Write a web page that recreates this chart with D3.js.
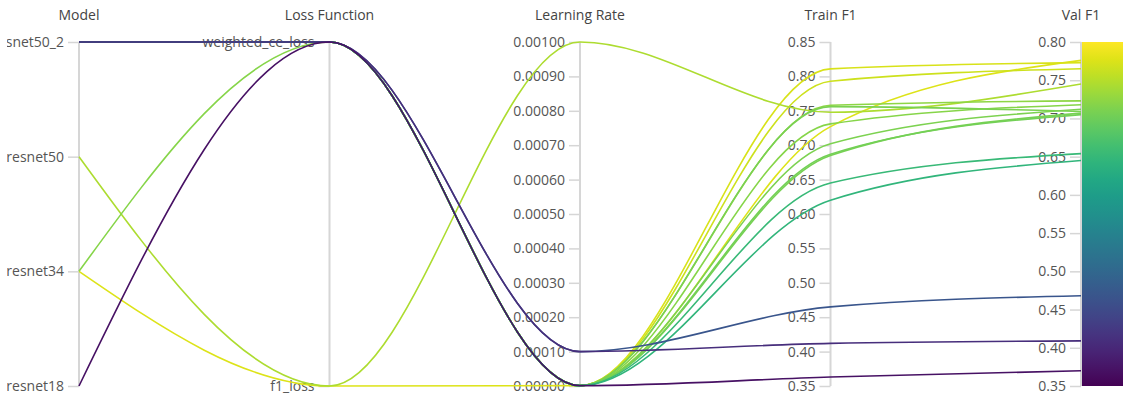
<!DOCTYPE html>
<html>
<head>
<meta charset="utf-8">
<script src="https://cdn.jsdelivr.net/npm/d3@7"></script>
<style>
  html, body { margin: 0; padding: 0; background: #fff; }
  svg { display: block; font-family: "Open Sans", Lato, "Noto Sans", sans-serif; }
</style>
</head>
<body>
<svg id="chart" width="1123" height="396"></svg>
<script>
// Dimension titles, left to right
const dimensions = ["Model", "Loss Function", "Learning Rate", "Train F1", "Val F1"];

// Categorical levels (top to bottom)
const modelLevels = ["resnet50_2", "resnet50", "resnet34", "resnet18"];
const lossLevels = ["weighted_ce_loss", "f1_loss"];

// One entry per run
const runModel = ["resnet34", "resnet50", "resnet50_2", "resnet50_2", "resnet50_2", "resnet50_2", "resnet34", "resnet50_2", "resnet50_2", "resnet50_2", "resnet50_2", "resnet50_2", "resnet50_2", "resnet50_2", "resnet18"];
const runLoss = ["f1_loss", "f1_loss", "weighted_ce_loss", "weighted_ce_loss", "weighted_ce_loss", "weighted_ce_loss", "weighted_ce_loss", "weighted_ce_loss", "weighted_ce_loss", "weighted_ce_loss", "weighted_ce_loss", "weighted_ce_loss", "weighted_ce_loss", "weighted_ce_loss", "weighted_ce_loss"];
const runLR = [0.000001, 0.001, 0.000001, 0.000001, 0.000001, 0.000001, 0.000001, 0.000001, 0.000001, 0.000001, 0.000001, 0.000001, 0.0001, 0.0001, 0.000001];
const runTrainF1 = [0.727, 0.748, 0.811, 0.793, 0.758, 0.756, 0.731, 0.702, 0.687, 0.685, 0.645, 0.620, 0.465, 0.412, 0.363];
const runValF1 = [0.776, 0.745, 0.773, 0.765, 0.723, 0.709, 0.718, 0.712, 0.705, 0.707, 0.654, 0.645, 0.468, 0.409, 0.370];

// Axis tick values
const lrTicks = [0, 0.0001, 0.0002, 0.0003, 0.0004, 0.0005, 0.0006, 0.0007, 0.0008, 0.0009, 0.001];
const trainTicks = [0.35, 0.40, 0.45, 0.50, 0.55, 0.60, 0.65, 0.70, 0.75, 0.80, 0.85];
const valTicks = [0.35, 0.40, 0.45, 0.50, 0.55, 0.60, 0.65, 0.70, 0.75, 0.80];

const svg = d3.select("#chart");
const yTop = 42, yBottom = 386;
const fontFamily = "\"Open Sans\", Lato, \"Noto Sans\", sans-serif";

// Plot panel clip (the panel starts a few pixels in from the left edge)
svg.append("defs").append("clipPath").attr("id", "panel")
  .append("rect").attr("x", 7).attr("y", 0).attr("width", 1116).attr("height", 396);
const root = svg.append("g").attr("clip-path", "url(#panel)");

const x = d3.scalePoint().domain(dimensions).range([79, 1081]);

const yScales = {
  "Model": d3.scalePoint().domain(modelLevels).range([yTop, yBottom]),
  "Loss Function": d3.scalePoint().domain(lossLevels).range([yTop, yBottom]),
  "Learning Rate": d3.scaleLinear().domain([0, 0.001]).range([yBottom, yTop]),
  "Train F1": d3.scaleLinear().domain([0.35, 0.85]).range([yBottom, yTop]),
  "Val F1": d3.scaleLinear().domain([0.35, 0.80]).range([yBottom, yTop])
};

// Line colour follows the colour bar on the Val F1 axis
const color = d3.scaleSequential(d3.interpolateViridis)
  .domain(yScales["Val F1"].domain());

const runs = runModel.map((m, i) => ({
  "Model": m,
  "Loss Function": runLoss[i],
  "Learning Rate": runLR[i],
  "Train F1": runTrainF1[i],
  "Val F1": runValF1[i]
}));

// Axes
const fmt = {
  "Learning Rate": d3.format(".5f"),
  "Train F1": d3.format(".2f"),
  "Val F1": d3.format(".2f")
};
const tickVals = {
  "Learning Rate": lrTicks,
  "Train F1": trainTicks,
  "Val F1": valTicks
};

dimensions.forEach(dim => {
  const g = root.append("g").attr("transform", `translate(${x(dim)},0)`);
  const axis = d3.axisLeft(yScales[dim]).tickSize(11).tickPadding(4);
  if (tickVals[dim]) axis.tickValues(tickVals[dim]).tickFormat(fmt[dim]);
  g.call(axis);
  g.select(".domain").attr("stroke", "#d6d6d6").attr("stroke-width", 2)
    .attr("d", `M0,${yTop}V${yBottom}`);
  g.selectAll(".tick line").attr("stroke", "#d6d6d6").attr("stroke-width", 1.5);
  g.selectAll(".tick text")
    .attr("fill", "#555")
    .style("font-size", "14px")
    .style("font-family", fontFamily);
  g.append("text")
    .attr("x", 0).attr("y", 20)
    .attr("text-anchor", "middle")
    .attr("fill", "#444")
    .style("font-size", "14px")
    .style("font-family", fontFamily)
    .text(dim);
});

// Colour bar on the last axis
const grad = svg.select("defs").append("linearGradient")
  .attr("id", "viridis-bar")
  .attr("x1", 0).attr("y1", 1).attr("x2", 0).attr("y2", 0);
d3.range(0, 1.0001, 0.05).forEach(t => {
  grad.append("stop").attr("offset", t).attr("stop-color", d3.interpolateViridis(t));
});
root.append("rect")
  .attr("x", x("Val F1") + 1).attr("y", yTop)
  .attr("width", 50).attr("height", yBottom - yTop)
  .attr("fill", "url(#viridis-bar)");

// Run lines, highest score drawn first so lower ones sit on top
const line = d3.line().curve(d3.curveMonotoneX);
const order = d3.range(runs.length).sort((a, b) => runValF1[b] - runValF1[a]);

root.append("g").attr("fill", "none")
  .selectAll("path")
  .data(order.map(i => runs[i]))
  .join("path")
  .attr("d", r => line(dimensions.map(d => [x(d), yScales[d](r[d])])))
  .attr("stroke", r => color(r["Val F1"]))
  .attr("stroke-width", 1.6);
</script>
</body>
</html>
